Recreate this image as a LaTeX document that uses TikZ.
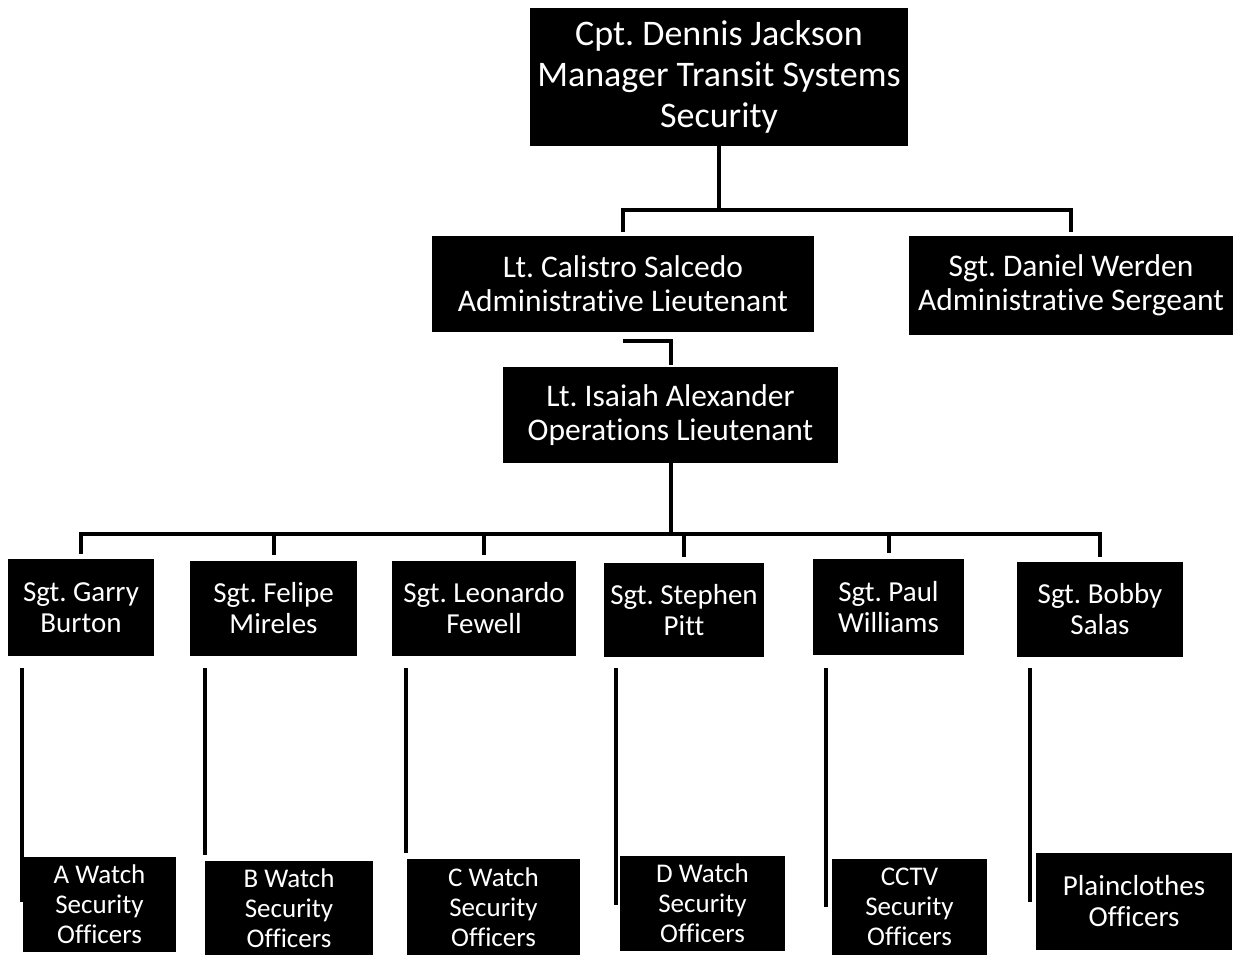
\documentclass[tikz,border=0pt]{standalone}
\usepackage{fontspec}
\setmainfont{Carlito}[Ligatures={NoCommon,NoRequired,NoContextual}]
\frenchspacing
\begin{document}
\begin{tikzpicture}[x=1pt,y=-1pt,
  box/.style={fill=black,text=white,inner sep=0pt,align=center,anchor=center},
  bigtxt/.style={font=\fontsize{36}{41}\selectfont},
  midtxt/.style={font=\fontsize{31.5}{34}\selectfont},
  sgttxt/.style={font=\fontsize{29}{31}\selectfont},
  lowtxt/.style={font=\fontsize{27}{30}\selectfont},
  conn/.style={line width=4pt,black}]
\useasboundingbox (0,0) rectangle (1238,955);
% top level
\node[box,bigtxt,minimum width=378pt,minimum height=138pt] (top) at (719,77) {Cpt. Dennis Jackson\\Manager Transit Systems\\Security};
\node[box,midtxt,minimum width=382pt,minimum height=96pt] (cal) at (623,284) {Lt. Calistro Salcedo\\Administrative Lieutenant};
\node[box,midtxt,minimum width=324pt,minimum height=99pt] (wer) at (1071,285.5) {Sgt. Daniel Werden\\Administrative Sergeant};
\node[box,midtxt,minimum width=335pt,minimum height=96pt] (isa) at (670.5,415) {Lt. Isaiah Alexander\\Operations Lieutenant};
% sergeants
\node[box,sgttxt,minimum width=146pt,minimum height=97pt] (garry) at (81,607.5) {Sgt. Garry\\Burton};
\node[box,sgttxt,minimum width=167pt,minimum height=95pt] (felipe) at (273.5,608.5) {Sgt. Felipe\\Mireles};
\node[box,sgttxt,minimum width=184pt,minimum height=95pt] (leo) at (484,608.5) {Sgt. Leonardo\\Fewell};
\node[box,sgttxt,minimum width=160pt,minimum height=94pt] (steph) at (684,610) {Sgt. Stephen\\Pitt};
\node[box,sgttxt,minimum width=151pt,minimum height=96pt] (paul) at (888.5,607) {Sgt. Paul\\Williams};
\node[box,sgttxt,minimum width=166pt,minimum height=95pt] (bobby) at (1100,609.5) {Sgt. Bobby\\Salas};
% units
\node[box,lowtxt,minimum width=153pt,minimum height=95pt] (wa) at (99.5,904.5) {A Watch\\Security\\Officers};
\node[box,lowtxt,minimum width=168pt,minimum height=94pt] (wb) at (289,908) {B Watch\\Security\\Officers};
\node[box,lowtxt,minimum width=173pt,minimum height=96pt] (wc) at (493.5,907) {C Watch\\Security\\Officers};
\node[box,lowtxt,minimum width=165pt,minimum height=95pt] (wd) at (702.5,903.5) {D Watch\\Security\\Officers};
\node[box,lowtxt,minimum width=155pt,minimum height=96pt] (cctv) at (909.5,907) {CCTV\\Security\\Officers};
\node[box,sgttxt,minimum width=196pt,minimum height=97pt] (plain) at (1134,901.5) {Plainclothes\\Officers};
% connectors top
\coordinate (tbar) at (0,210);
\draw[conn] (top.south) -- (top.south |- tbar);
\draw[conn] ([yshift=4pt]cal.north) -- (cal.north |- tbar) -- (wer.north |- tbar) -- ([yshift=4pt]wer.north);
\draw[conn] ([yshift=-9pt]cal.south) -| ([yshift=2pt]isa.north);
% connectors to sergeants
\coordinate (sbar) at (0,534);
\draw[conn] (isa.south) -- (isa.south |- sbar);
\draw[conn] ([yshift=5pt]garry.north) -- (garry.north |- sbar) -- (bobby.north |- sbar) -- ([yshift=5pt]bobby.north);
\foreach \n in {felipe,leo,steph,paul}{
  \draw[conn] ([yshift=6pt]\n.north) -- (\n.north |- sbar);
}
% free lines below sergeants
\draw[conn] ([xshift=14pt,yshift=-12pt]garry.south west) -- ++(0,234);
\draw[conn] ([xshift=15pt,yshift=-12pt]felipe.south west) -- ++(0,187);
\draw[conn] ([xshift=14pt,yshift=-12pt]leo.south west) -- ++(0,185);
\draw[conn] ([xshift=12pt,yshift=-11pt]steph.south west) -- ++(0,237);
\draw[conn] ([xshift=13pt,yshift=-13pt]paul.south west) -- ++(0,239);
\draw[conn] ([xshift=13pt,yshift=-11pt]bobby.south west) -- ++(0,234);
\end{tikzpicture}
\end{document}
